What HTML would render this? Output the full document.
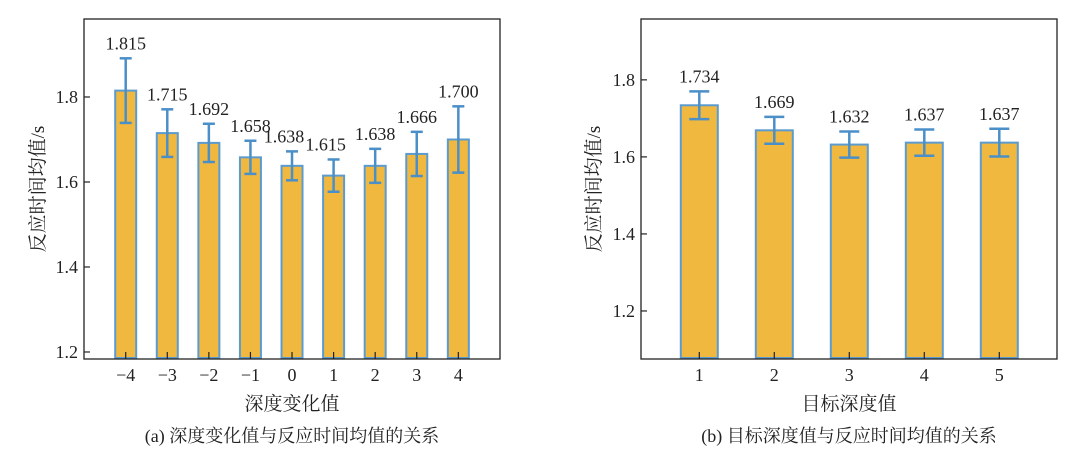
<!DOCTYPE html>
<html><head><meta charset="utf-8"><style>
html,body{margin:0;padding:0;background:#fff;}
svg{display:block;font-family:"Liberation Serif","Noto Serif CJK SC","Noto Sans CJK SC",serif;}
</style></head><body>
<svg id="svg" width="1078" height="455" xmlns="http://www.w3.org/2000/svg"></svg>
<script>
const catsA = ["−4","−3","−2","−1","0","1","2","3","4"];
const valsA = [1.815,1.715,1.692,1.658,1.638,1.615,1.638,1.666,1.700];
const errsA = [0.076,0.056,0.045,0.039,0.034,0.038,0.040,0.052,0.078];
const ticksA = [1.2,1.4,1.6,1.8];
const catsB = ["1","2","3","4","5"];
const valsB = [1.734,1.669,1.632,1.637,1.637];
const errsB = [0.036,0.035,0.034,0.034,0.036];
const ticksB = [1.2,1.4,1.6,1.8];

const NS="http://www.w3.org/2000/svg";
const svg=document.getElementById('svg');
function mk(tag,attrs,parent){const e=document.createElementNS(NS,tag);for(const k in attrs)e.setAttribute(k,attrs[k]);(parent||svg).appendChild(e);return e;}

function chart(cfg){
  const g=mk('g',{});
  
  
  const {x0,x1,y0,y1,ymin,ymax,first,step,bw}=cfg;
  const ys=v=>y1-(v-ymin)/(ymax-ymin)*(y1-y0);
  const xs=i=>first+i*step;
  // bars
  cfg.vals.forEach((v,i)=>{
    const r=mk('rect',{x:xs(i)-bw/2,y:ys(v),width:bw,height:y1-ys(v)-1,fill:'#f0b83e',stroke:'#5b9bd0','stroke-width':2},g);
    
    
  });
  // error bars
  cfg.vals.forEach((v,i)=>{
    const e=cfg.errs[i],cx=xs(i),t=ys(v+e),b=ys(v-e),cw=cfg.cap;
    const eg=mk('g',{stroke:'#4b8fc8','stroke-width':2.5,fill:'none'},g);
    
    
    mk('line',{x1:cx,x2:cx,y1:t,y2:b},eg);
    mk('line',{x1:cx-cw,x2:cx+cw,y1:t,y2:t},eg);
    mk('line',{x1:cx-cw,x2:cx+cw,y1:b,y2:b},eg);
    const lbl=mk('text',{x:cx+(cfg.lblOff?cfg.lblOff[i]:0),y:t-9,'text-anchor':'middle','font-size':18,fill:'#222'},g);
    lbl.textContent=v.toFixed(3);
    
    
  });
  // frame
  const f=mk('rect',{x:x0,y:y0,width:x1-x0,height:y1-y0,fill:'none',stroke:'#222','stroke-width':1.3},g);
  
  
  // y ticks
  cfg.ticks.forEach(t=>{
    const y=ys(t);
    mk('line',{x1:x0,x2:x0+6,y1:y,y2:y,stroke:'#222','stroke-width':1.2},g);
    const tx=mk('text',{x:x0-6,y:y+6,'text-anchor':'end','font-size':18,fill:'#222'},g);
    tx.textContent=t.toFixed(1);
    
    
  });
  // x ticks
  cfg.cats.forEach((c,i)=>{
    const x=xs(i);
    mk('line',{x1:x,x2:x,y1:y1,y2:y1-7,stroke:'#222','stroke-width':1.2},g);
    const tx=mk('text',{x:x,y:y1+22,'text-anchor':'middle','font-size':18,fill:'#222'},g);
    tx.textContent=c;
    
    
  });
  const cx=(x0+x1)/2;
  const xt=mk('text',{x:cx,y:410,'text-anchor':'middle','font-size':19,fill:'#222'},g);
  xt.textContent=cfg.xtitle;
  
  
  const yt=mk('text',{x:0,y:0,'text-anchor':'middle','font-size':19,fill:'#222',transform:`translate(${cfg.ytx},189) rotate(-90)`},g);
  yt.textContent='反应时间均值/s';
  
  
  const cap=mk('text',{x:cx,y:442,'text-anchor':'middle','font-size':18,fill:'#222'},g);
  cap.textContent=cfg.caption;
  
  
}

chart({name:'chart-a',cats:catsA,vals:valsA,errs:errsA,ticks:ticksA,x0:84,x1:500,y0:19,y1:359,ymin:1.1835,ymax:1.9835,
  first:125.7,step:41.58,bw:21,cap:6,xtitle:'深度变化值',caption:'(a) 深度变化值与反应时间均值的关系',ytx:44,
  lblOff:[0,0,0,0,-8,-8,0,0,0]});
chart({name:'chart-b',cats:catsB,vals:valsB,errs:errsB,ticks:ticksB,x0:641,x1:1057,y0:19,y1:359,ymin:1.0753,ymax:1.958,
  first:699.3,step:75,bw:37,cap:10,xtitle:'目标深度值',caption:'(b) 目标深度值与反应时间均值的关系',ytx:600});
</script>
</body></html>
